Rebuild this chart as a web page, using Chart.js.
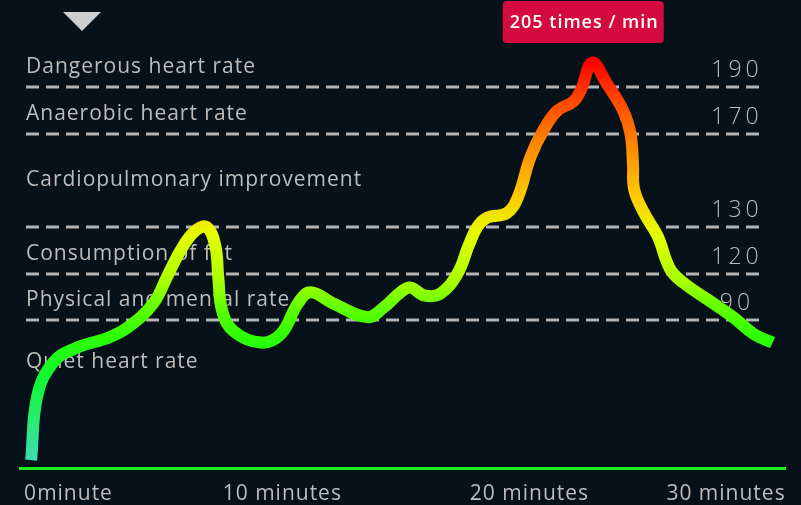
<!DOCTYPE html>
<html>
<head>
<meta charset="utf-8">
<script src="https://cdn.jsdelivr.net/npm/chart.js@4.4.1/dist/chart.umd.min.js"></script>
<style>
  html, body { margin: 0; padding: 0; background: #06111a; }
  #wrap { width: 801px; height: 505px; position: relative; }
</style>
</head>
<body>
<div id="wrap"><canvas id="chart"></canvas></div>
<script>
// minutes since start and heart rate (times / min)
const minutes = [0, 0.25, 0.9, 1.8, 3.2, 4.0, 4.95, 5.5, 6.05, 6.6, 7.1, 7.45, 7.57, 7.73, 8.2, 9.3, 10.1, 10.8, 11.3,
  12.2, 13.6, 14.25, 14.95, 15.35, 15.9, 16.55, 17.25, 17.7, 18.05, 18.45, 19.25, 19.7, 20.2, 20.75, 21.3, 21.95, 22.25, 22.7,
  23.3, 23.95, 24.25, 24.35, 24.4, 24.8, 25.35, 25.85, 26.4, 27.4, 28.4, 29.25, 30]
const heartRate = [40, 63, 75, 80, 84, 88, 101, 118, 125, 129, 130, 126, 118, 96, 86, 82, 85, 101, 108,
  101, 92, 98, 108, 111, 106, 107, 120, 126, 130, 134, 136, 143, 160, 172, 180, 184, 189, 205,
  192, 180, 170, 157, 146, 136, 128, 121, 114, 103, 92, 85, 82]

// zone limits (dashed lines) and zone names
const zoneLines = [190, 170, 130, 120, 90]
const zoneNames = ['Dangerous heart rate', 'Anaerobic heart rate', 'Cardiopulmonary improvement',
  'Consumption of fat', 'Physical and mental rate', 'Quiet heart rate']
const zoneNameAt = [190, 170, 141.5, 120, 90, 68]

const xTicks = [0, 10, 20, 30]
const xTickLabels = ['0minute', '10 minutes', '20 minutes', '30 minutes']
// small sideways nudge of each x label, px
const xLabelShift = [-7, 4, 4, 13]

// the vertical axis is not linear in bpm, each zone band has its own height
const levelBpm = [40, 90, 120, 130, 170, 190, 210]
const levelPos = [0, 3, 4, 5, 7, 8, 8.7]

// line colour by heart rate
const colorBpm = [40, 58, 70, 85, 100, 115, 128, 145, 160, 172, 185, 195, 205]
const colorStops = ['#3ddbb4', '#22ee60', '#10f830', '#30ff00', '#66ff00', '#a8ff00', '#e4ff00',
  '#ffc400', '#ff9800', '#ff7000', '#ff4400', '#ff2200', '#ff0000']

function toPos (bpm) {
  for (let i = 1; i < levelBpm.length; i++) {
    if (bpm <= levelBpm[i] || i === levelBpm.length - 1) {
      const f = (bpm - levelBpm[i - 1]) / (levelBpm[i] - levelBpm[i - 1])
      return levelPos[i - 1] + f * (levelPos[i] - levelPos[i - 1])
    }
  }
}

function lineColor (context) {
  const chart = context.chart
  if (!chart.chartArea) return '#33ff00'
  const y = chart.scales.y
  const bottom = y.getPixelForValue(toPos(colorBpm[0]))
  const top = y.getPixelForValue(toPos(colorBpm[colorBpm.length - 1]))
  const g = chart.ctx.createLinearGradient(0, bottom, 0, top)
  colorBpm.forEach(function (v, i) {
    g.addColorStop((bottom - y.getPixelForValue(toPos(v))) / (bottom - top), colorStops[i])
  })
  return g
}

const zonePlugin = {
  id: 'zones',
  beforeDraw: function (chart) {
    const c = chart.ctx
    c.save()
    c.fillStyle = '#06111a'
    c.fillRect(0, 0, chart.width, chart.height)
    c.restore()
    // text in the original is a little wide
    c.letterSpacing = '1px'
    const items = chart.scales.x.getLabelItems()
    if (!items._shifted) {
      items.forEach(function (it, i) { it.options.translation[0] += xLabelShift[i] || 0 })
      items._shifted = true
    }
  },
  beforeDatasetsDraw: function (chart) {
    const c = chart.ctx
    const y = chart.scales.y
    c.save()
    c.strokeStyle = '#b4b4b4'
    c.lineWidth = 3
    c.setLineDash([13, 7])
    zoneLines.forEach(function (v) {
      const py = Math.round(y.getPixelForValue(toPos(v)))
      c.beginPath()
      c.moveTo(26, py)
      c.lineTo(762, py)
      c.stroke()
    })
    c.setLineDash([])
    c.fillStyle = '#bdbdbd'
    c.font = '21px "Open Sans"'
    c.textAlign = 'left'
    c.textBaseline = 'alphabetic'
    zoneNames.forEach(function (name, i) {
      c.fillText(name, 26, y.getPixelForValue(toPos(zoneNameAt[i])) - 14)
    })
    c.font = '300 23px "Open Sans"'
    c.letterSpacing = '4px'
    c.textAlign = 'center'
    zoneLines.forEach(function (v) {
      c.fillText(String(v), 737, y.getPixelForValue(toPos(v)) - 10)
    })
    c.restore()
  },
  afterDraw: function (chart) {
    const c = chart.ctx
    c.save()
    // little drop-down marker
    c.fillStyle = '#cfcfcf'
    c.beginPath()
    c.moveTo(63, 12)
    c.lineTo(101, 12)
    c.lineTo(82, 31)
    c.closePath()
    c.fill()

    // label over the maximum
    const i = heartRate.indexOf(Math.max.apply(null, heartRate))
    const px = chart.scales.x.getPixelForValue(minutes[i])
    const text = heartRate[i] + ' times / min'
    c.letterSpacing = '1px'
    c.font = '600 18px "Open Sans"'
    const w = c.measureText(text).width + 12
    const cx = px - 9
    c.fillStyle = '#d50a3e'
    c.beginPath()
    c.roundRect(cx - w / 2, 1, w, 42, 4)
    c.fill()
    c.fillStyle = '#ffffff'
    c.textAlign = 'center'
    c.textBaseline = 'middle'
    c.fillText(text, cx + 1, 23)
    c.restore()
  }
}

new Chart(document.getElementById('chart'), {
  type: 'line',
  data: {
    datasets: [{
      data: minutes.map(function (m, i) { return { x: m, y: toPos(heartRate[i]) } }),
      borderColor: lineColor,
      borderWidth: 12,
      pointRadius: 0,
      tension: 0.4,
      fill: false
    }]
  },
  options: {
    responsive: true,
    maintainAspectRatio: false,
    animation: false,
    layout: { padding: { left: 20, right: 16, top: 0, bottom: 0 } },
    plugins: { legend: { display: false }, tooltip: { enabled: false } },
    scales: {
      x: {
        type: 'linear',
        min: -0.45,
        max: 30.5,
        afterBuildTicks: function (s) { s.ticks = xTicks.map(function (v) { return { value: v } }) },
        afterFit: function (s) { s.height = 37 },
        grid: { display: false, drawTicks: false },
        border: { display: true, color: '#1ef01e', width: 3 },
        ticks: {
          align: 'inner',
          padding: 13,
          color: '#bdbdbd',
          maxRotation: 0,
          autoSkip: false,
          font: { family: 'Open Sans', size: 21 },
          callback: function (v) { return xTickLabels[xTicks.indexOf(v)] }
        }
      },
      y: { display: false, min: -0.17, max: 9.87 }
    }
  },
  plugins: [zonePlugin]
})
</script>
</body>
</html>
